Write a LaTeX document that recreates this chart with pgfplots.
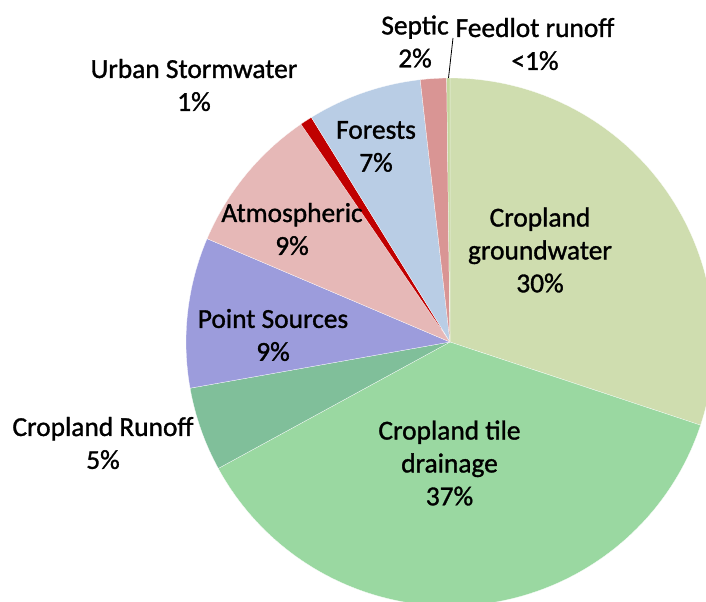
\documentclass[border=0pt]{standalone}
\usepackage{pgfplots}
\usepackage{pgfplotstable}
\pgfplotsset{compat=1.18}
\usepackage{fontspec}
\setmainfont{Carlito}
\newfontfamily\lblfont[FakeBold=1.2]{Carlito}
\definecolor{col0}{HTML}{CFDDAF}
\definecolor{col1}{HTML}{9AD8A1}
\definecolor{col2}{HTML}{80BF9A}
\definecolor{col3}{HTML}{9C9CDC}
\definecolor{col4}{HTML}{E6B8B7}
\definecolor{col5}{HTML}{C00000}
\definecolor{col6}{HTML}{B9CDE5}
\definecolor{col7}{HTML}{D99594}
\definecolor{col8}{HTML}{C3D69B}
\pgfplotstableread{
source value
groundwater 30.1
tile 36.95
runoff 5.15
point 9.2
atmospheric 9.05
urban 0.75
forests 7.0
septic 1.6
feedlot 0.2
}\piedata
\newcommand\pieslice[3]{\fill[fill=#3,draw=white,line width=0.25bp] (axis cs:450,342) -- ++({90-3.6*#1}:264bp) arc[start angle={90-3.6*#1},end angle={90-3.6*#2},radius=264bp] -- cycle;}
\def\slicecmds{}
\def\cum{0}
\pgfplotsforeachungrouped \i in {0,...,8}{%
  \pgfplotstablegetelem{\i}{value}\of\piedata
  \pgfmathsetmacro\e{\cum+\pgfplotsretval}%
  \edef\slicecmds{\slicecmds\noexpand\pieslice{\cum}{\e}{col\i}}%
  \let\cum\e
}
\newcommand\lbl{\lblfont\fontsize{27.5}{33}\selectfont}
\begin{document}
\begin{tikzpicture}
\begin{axis}[
  scale only axis, width=706bp, height=602bp,
  xmin=0, xmax=706, ymin=0, ymax=602, y dir=reverse,
  hide axis, clip=false]
\slicecmds
\draw[black, line width=0.8bp] (axis cs:448.5,78) -- (axis cs:453,38);
\node[align=center, font=\lbl] at (axis cs:415,41.5) {Septic\\2\%};
\node[align=center, font=\lbl] at (axis cs:535,44) {Feedlot runoff\\<1\%};
\node[align=center, font=\lbl] at (axis cs:194,85) {Urban Stormwater\\1\%};
\node[align=center, font=\lbl] at (axis cs:376,146.5) {Forests\\7\%};
\node[align=center, font=\lbl] at (axis cs:292,229) {Atmospheric\\9\%};
\node[align=center, font=\lbl] at (axis cs:273,335) {Point Sources\\9\%};
\node[align=center, font=\lbl] at (axis cs:103,443) {Cropland Runoff\\5\%};
\node[align=center, font=\lbl] at (axis cs:449.5,463) {Cropland tile\\drainage\\37\%};
\node[align=center, font=\lbl] at (axis cs:540,250) {Cropland\\groundwater\\30\%};
\end{axis}
\pgfresetboundingbox
\path[use as bounding box] (current axis.south west) rectangle (current axis.north east);
\end{tikzpicture}
\end{document}
